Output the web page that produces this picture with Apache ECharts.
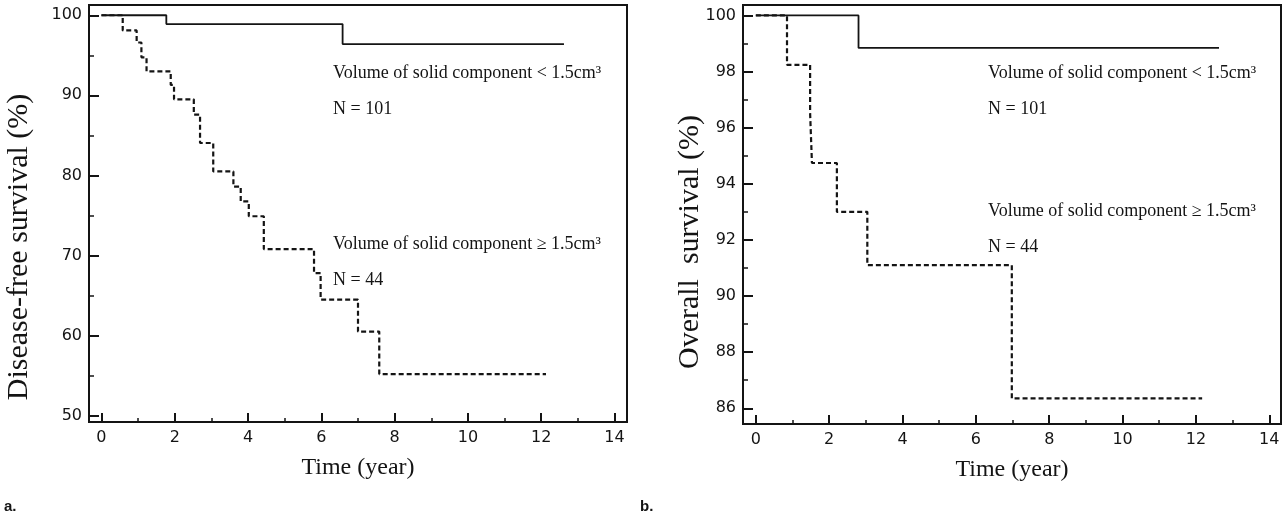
<!DOCTYPE html>
<html>
<head>
<meta charset="utf-8">
<script src="https://cdn.jsdelivr.net/npm/echarts@6/dist/echarts.min.js"></script>
<style>
  html, body { margin: 0; padding: 0; background: #fff; }
  #chart { width: 1284px; height: 519px; }
</style>
</head>
<body>
<div id="chart"></div>
<script>
// ---------- DATA ----------
// Panel a: Disease-free survival
var timeA_low  = [0, 1.77, 6.58, 12.62];
var survA_low  = [100, 98.9, 96.4, 96.4];
var timeA_high = [0, 0.58, 0.96, 1.09, 1.23, 1.89, 1.98, 2.52, 2.69, 3.05, 3.6, 3.8, 4.02, 4.43, 5.8, 5.98, 7.0, 7.58, 12.13];
var survA_high = [100, 98.1, 96.6, 94.75, 93.0, 91.3, 89.5, 87.6, 84.05, 80.5, 78.6, 76.75, 74.9, 70.8, 67.8, 64.5, 60.5, 55.2, 55.2];
// Panel b: Overall survival
var timeB_low  = [0, 2.8, 12.63];
var survB_low  = [100, 98.84, 98.84];
var timeB_high = [0, 0.85, 1.48, 1.53, 2.21, 3.04, 6.98, 12.17];
var survB_high = [100, 98.24, 96.52, 94.74, 93.0, 91.1, 86.35, 86.35];

// Tick labels
var xMajorTicks = [0, 2, 4, 6, 8, 10, 12, 14];
var xMinorTicks = [1, 3, 5, 7, 9, 11, 13];
var yMajorTicksA = [50, 60, 70, 80, 90, 100];
var yMinorTicksA = [55, 65, 75, 85, 95];
var yMajorTicksB = [86, 88, 90, 92, 94, 96, 98, 100];
var yMinorTicksB = [87, 89, 91, 93, 95, 97, 99];

// Texts
var yTitleA = 'Disease-free survival (%)';
var yTitleB = 'Overall  survival (%)';
var xTitle = 'Time (year)';
var labelLow = 'Volume of solid component < 1.5cm\u00B3';
var labelHigh = 'Volume of solid component \u2265 1.5cm\u00B3';
var nLow = 'N = 101';
var nHigh = 'N = 44';

function zip(a, b) { return a.map(function (v, i) { return [v, b[i]]; }); }

// ---------- LAYOUT ----------
var gridA = { left: 89, top: 5, width: 538, height: 417 };
var gridB = { left: 743, top: 5, width: 538, height: 419 };
var rangeA = { xmin: -0.34, xmax: 14.34, ymin: 49.21, ymax: 101.28 };
var rangeB = { xmin: -0.35, xmax: 14.32, ymin: 85.44, ymax: 100.37 };

var INK = '#141414';
var SANS = 'DejaVu Sans';
var SERIF = 'Liberation Serif';

function grids() {
  var g = [];
  [gridA, gridB].forEach(function (gr) {
    g.push(Object.assign({ show: true, borderColor: INK, borderWidth: 2, backgroundColor: 'transparent', containLabel: false, outerBoundsMode: 'none' }, gr));
    g.push(Object.assign({ show: false, containLabel: false, outerBoundsMode: 'none' }, gr));
  });
  return g;
}

function xAxisMajor(gridIndex, r) {
  return {
    type: 'value', gridIndex: gridIndex, min: r.xmin, max: r.xmax, position: 'bottom',
    name: xTitle, nameLocation: 'middle', nameGap: 34,
    nameTextStyle: { fontFamily: SERIF, fontSize: 24, color: INK },
    axisLine: { show: false, onZero: false }, splitLine: { show: false },
    axisTick: { show: true, inside: true, length: 9, customValues: xMajorTicks, lineStyle: { color: INK, width: 2 } },
    axisLabel: { show: true, customValues: xMajorTicks, fontFamily: SANS, fontSize: 16, color: INK, margin: 8 }
  };
}
function xAxisMinor(gridIndex, r) {
  return {
    type: 'value', gridIndex: gridIndex, min: r.xmin, max: r.xmax, position: 'bottom',
    axisLine: { show: false, onZero: false }, splitLine: { show: false },
    axisTick: { show: true, inside: true, length: 4, customValues: xMinorTicks, lineStyle: { color: INK, width: 1.5 } },
    axisLabel: { show: false }
  };
}
function yAxisMajor(gridIndex, r, major) {
  return {
    type: 'value', gridIndex: gridIndex, min: r.ymin, max: r.ymax, position: 'left',
    axisLine: { show: false, onZero: false }, splitLine: { show: false },
    axisTick: { show: true, inside: true, length: 10, customValues: major, lineStyle: { color: INK, width: 2 } },
    axisLabel: { show: true, customValues: major, fontFamily: SANS, fontSize: 16, color: INK, margin: 7 }
  };
}
function yAxisMinor(gridIndex, r, minor) {
  return {
    type: 'value', gridIndex: gridIndex, min: r.ymin, max: r.ymax, position: 'left',
    axisLine: { show: false, onZero: false }, splitLine: { show: false },
    axisTick: { show: true, inside: true, length: 5, customValues: minor, lineStyle: { color: INK, width: 1.5 } },
    axisLabel: { show: false }
  };
}

function kmSeries(axisIndex, times, surv, dashed) {
  return {
    type: 'line', xAxisIndex: axisIndex, yAxisIndex: axisIndex,
    data: zip(times, surv), step: 'end', symbol: 'none', silent: true,
    lineStyle: dashed ? { color: INK, width: 2.2, type: [5, 3] } : { color: INK, width: 1.8 }
  };
}

function txt(x, y, s) {
  return { type: 'text', left: x, top: y, style: { text: s, fontFamily: SERIF, fontSize: 18, fill: INK } };
}
function vtitle(x, y, s) {
  return { type: 'text', x: x, y: y, rotation: Math.PI / 2,
    style: { text: s, fontFamily: SERIF, fontSize: 30, fill: INK, align: 'center', verticalAlign: 'middle' } };
}

var option = {
  backgroundColor: '#ffffff',
  animation: false,
  grid: grids(),
  xAxis: [xAxisMajor(0, rangeA), xAxisMinor(1, rangeA), xAxisMajor(2, rangeB), xAxisMinor(3, rangeB)],
  yAxis: [
    yAxisMajor(0, rangeA, yMajorTicksA),
    yAxisMinor(1, rangeA, yMinorTicksA),
    yAxisMajor(2, rangeB, yMajorTicksB),
    yAxisMinor(3, rangeB, yMinorTicksB)
  ],
  series: [
    kmSeries(0, timeA_low, survA_low, false),
    kmSeries(0, timeA_high, survA_high, true),
    kmSeries(2, timeB_low, survB_low, false),
    kmSeries(2, timeB_high, survB_high, true)
  ],
  graphic: [
    vtitle(19, 247, yTitleA),
    vtitle(690, 242, yTitleB),
    txt(333, 64, labelLow), txt(333, 100, nLow),
    txt(333, 235, labelHigh), txt(333, 271, nHigh),
    txt(988, 64, labelLow), txt(988, 100, nLow),
    txt(988, 202, labelHigh), txt(988, 238, nHigh),
    { type: 'text', left: 4, top: 499, style: { text: 'a.', fontFamily: 'Liberation Sans', fontWeight: 'bold', fontSize: 15, fill: INK } },
    { type: 'text', left: 640, top: 499, style: { text: 'b.', fontFamily: 'Liberation Sans', fontWeight: 'bold', fontSize: 15, fill: INK } }
  ]
};

var chart = echarts.init(document.getElementById('chart'), null, { renderer: 'canvas' });
chart.setOption(option);
</script>
</body>
</html>
